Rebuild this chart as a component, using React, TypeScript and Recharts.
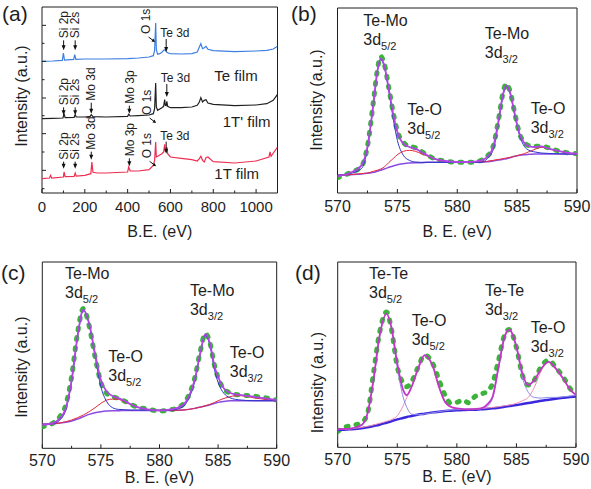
import React from 'react';
import { LineChart, Line, XAxis, YAxis, ReferenceArea, ReferenceDot } from 'recharts';

const FONT = '"Liberation Sans", Arial, Helvetica, sans-serif';
const INK = '#1e1e1e';

// ---------------- Panel (a): survey spectra ----------------
const surveyXTicks = [0, 100, 200, 300, 400, 500, 600, 700, 800, 900, 1000, 1100];
const surveyXMajor = [0, 200, 400, 600, 800, 1000];
const surveyYTicks = [13, 68, 123, 178, 232, 285, 340, 395, 449, 503];
const surveyYMajor = [68, 178, 285, 395, 503];

const teFilmBE = [0, 50, 95, 100, 105, 148, 153, 158, 200, 300, 400, 450, 500, 520, 526, 531, 534, 540, 550, 560, 568, 575, 582, 590, 600, 650, 700, 725, 735, 742, 750, 758, 766, 775, 800, 900, 1000, 1050, 1080, 1100];
const teFilmI = [395, 396, 398, 420, 399, 401, 415, 401, 402, 402, 403, 405, 408, 412, 428, 510, 430, 416, 418, 422, 428, 430, 423, 420, 418, 417, 418, 423, 438, 448, 433, 436, 440, 431, 427, 424, 426, 428, 432, 440];

const t1pFilmBE = [0, 50, 98, 103, 108, 150, 155, 160, 200, 225, 230, 238, 300, 400, 405, 412, 450, 500, 520, 526, 531, 534, 540, 560, 568, 573, 576, 580, 583, 587, 600, 650, 700, 725, 735, 742, 750, 758, 766, 775, 800, 900, 1000, 1050, 1080, 1100];
const t1pFilmI = [223, 224, 225, 238, 226, 227, 235, 228, 228, 230, 235, 229, 228, 230, 236, 231, 232, 234, 238, 253, 330, 258, 248, 256, 260, 280, 263, 262, 275, 260, 256, 256, 258, 263, 273, 286, 273, 278, 280, 270, 266, 262, 264, 268, 278, 296];

const t1FilmBE = [0, 35, 40, 45, 100, 103, 108, 150, 155, 160, 200, 228, 233, 238, 260, 300, 400, 405, 412, 450, 500, 520, 526, 531, 534, 540, 560, 568, 573, 576, 580, 583, 587, 600, 650, 700, 725, 735, 742, 750, 758, 766, 775, 800, 900, 1000, 1060, 1065, 1070, 1100];
const t1FilmI = [43, 45, 53, 45, 48, 63, 49, 50, 60, 51, 53, 58, 93, 62, 60, 60, 63, 78, 66, 66, 70, 83, 98, 153, 108, 110, 118, 123, 146, 126, 128, 138, 118, 108, 104, 100, 96, 103, 110, 98, 93, 106, 108, 94, 90, 96, 108, 123, 110, 138];

// vertical tags (rotated text + down arrow)
const surveyVTags = [
  { text: 'Si 2p', be: 101, val: 428, len: 10 },
  { text: 'Si 2s', be: 155, val: 428, len: 10 },
  { text: 'Si 2p', be: 101, val: 233, len: 8 },
  { text: 'Si 2s', be: 155, val: 233, len: 8 },
  { text: 'Mo 3d', be: 230, val: 238, len: 11 },
  { text: 'Mo 3p', be: 408, val: 238, len: 8 },
  { text: 'Si 2p', be: 101, val: 73, len: 7 },
  { text: 'Si 2s', be: 155, val: 73, len: 7 },
  { text: 'Mo 3d', be: 230, val: 100, len: 8 },
  { text: 'Mo 3p', be: 408, val: 80, len: 8 },
];
const surveyO1sTags = [
  { be: 528, val: 453 },
  { be: 533, val: 210 },
  { be: 533, val: 80 },
];
const surveyTe3dTags = [
  { be: 580, val: 423, len: 13 },
  { be: 583, val: 288, len: 13 },
  { be: 580, val: 118, len: 12 },
];
const surveySampleNames = [
  { text: 'Te film', be: 805, val: 353 },
  { text: "1T' film", be: 844, val: 213 },
  { text: '1T film', be: 805, val: 58 },
];

// ---------------- Panels (b)-(d): Te 3d high-resolution ----------------
const hrXTicks = [570, 572.5, 575, 577.5, 580, 582.5, 585, 587.5, 590];
const hrXMajor = [570, 575, 580, 585, 590];

// (b) 1T' film
const bBE = [570, 571, 572, 572.5, 573, 573.3, 573.6, 573.9, 574.3, 574.7, 575, 575.5, 576, 576.5, 577, 577.5, 578, 579, 580, 581, 582, 582.5, 583, 583.5, 583.8, 584.1, 584.4, 584.8, 585.2, 585.6, 586, 586.5, 587, 587.5, 588, 589, 590];
const bData = [46, 60, 80, 140, 275, 362, 410, 388, 312, 232, 186, 152, 140, 136, 125, 114, 104, 96, 92, 92, 98, 110, 140, 232, 298, 328, 306, 240, 178, 152, 142, 140, 141, 137, 131, 122, 118];
const bEnvelope = [50, 60, 83, 138, 268, 358, 403, 383, 308, 228, 183, 148, 138, 133, 123, 113, 104, 96, 93, 93, 98, 108, 138, 228, 293, 323, 303, 238, 178, 150, 140, 138, 140, 135, 130, 122, 118];
const bTeMo = [53, 58, 73, 133, 268, 358, 400, 380, 303, 213, 158, 113, 98, 93, 92, 92, 92, 92, 92, 92, 92, 103, 130, 223, 288, 320, 300, 233, 173, 140, 128, 123, 120, 119, 118, 117, 117];
const bTeO = [53, 55, 58, 60, 65, 68, 72, 78, 92, 105, 115, 125, 128, 125, 118, 111, 103, 95, 92, 92, 93, 95, 98, 101, 103, 105, 107, 110, 114, 118, 124, 131, 137, 135, 129, 122, 116];
const bBackground = [53, 55, 57, 59, 62, 65, 68, 72, 77, 82, 85, 88, 90, 91, 91, 92, 92, 92, 92, 92, 93, 94, 96, 99, 101, 103, 106, 110, 113, 115, 116, 117, 117, 117, 117, 117, 117];

// (c) 1T film
const cBE = [570, 571, 571.5, 572, 572.5, 573, 573.5, 574, 574.5, 575, 575.5, 576, 576.5, 577, 577.5, 578, 579, 580, 581, 582, 582.5, 583, 583.5, 583.9, 584.3, 584.7, 585, 585.5, 586, 586.5, 587, 588, 589, 590];
const cData = [65, 78, 95, 130, 215, 345, 420, 368, 275, 198, 165, 155, 150, 142, 133, 125, 118, 112, 116, 132, 160, 210, 295, 345, 318, 248, 212, 178, 167, 162, 160, 157, 152, 145];
const cEnvelope = [70, 77, 90, 120, 205, 335, 417, 375, 285, 205, 170, 157, 151, 143, 133, 125, 117, 114, 117, 130, 155, 205, 290, 343, 315, 245, 215, 180, 167, 162, 160, 155, 150, 145];
const cTeMo = [72, 75, 85, 115, 200, 332, 415, 372, 278, 185, 140, 122, 117, 116, 115, 115, 115, 114, 115, 125, 150, 200, 287, 340, 310, 235, 198, 165, 152, 147, 145, 143, 143, 143];
const cTeO = [72, 74, 76, 80, 85, 92, 100, 110, 122, 135, 145, 148, 147, 140, 132, 125, 117, 114, 114, 115, 117, 120, 124, 128, 132, 138, 143, 150, 155, 158, 158, 152, 147, 143];
const cBackground = [72, 74, 76, 78, 82, 88, 95, 102, 107, 110, 112, 113, 113, 114, 114, 114, 114, 114, 114, 115, 117, 120, 124, 127, 131, 135, 138, 141, 143, 143, 143, 143, 143, 143];

// (d) Te film
const dBE = [570, 570.5, 571, 572, 572.5, 573, 573.5, 574.1, 574.5, 575, 575.5, 575.8, 576.2, 576.7, 577.3, 578, 578.5, 579, 579.5, 580, 580.5, 581, 581.5, 582, 582.5, 583, 583.5, 584, 584.4, 585, 585.5, 586, 586.5, 587.1, 587.7, 588.3, 589, 589.5, 590];
const dData = [47, 60, 64, 74, 102, 222, 342, 407, 357, 242, 192, 182, 197, 237, 277, 250, 202, 157, 132, 135, 142, 134, 152, 160, 167, 192, 262, 337, 354, 300, 217, 187, 202, 244, 262, 240, 207, 177, 160];
const dEnvelope = [54, 55, 56, 67, 102, 202, 332, 402, 362, 252, 172, 157, 182, 232, 277, 242, 182, 137, 122, 117, 115, 114, 115, 117, 127, 152, 242, 332, 354, 302, 222, 187, 202, 237, 257, 237, 202, 174, 157];
const dTeTe = [54, 55, 56, 65, 98, 198, 328, 400, 358, 240, 150, 120, 100, 98, 100, 104, 107, 110, 112, 113, 114, 114, 114, 116, 122, 148, 238, 328, 352, 298, 210, 165, 150, 148, 150, 150, 152, 154, 156];
const dTeO = [53, 54, 55, 60, 63, 67, 72, 78, 83, 95, 125, 150, 180, 230, 275, 240, 180, 135, 120, 116, 114, 114, 115, 116, 118, 120, 122, 125, 127, 132, 140, 150, 180, 232, 255, 235, 200, 172, 157];
const dBackground = [52, 53, 54, 57, 60, 64, 68, 74, 78, 84, 88, 91, 94, 98, 101, 105, 107, 109, 110, 111, 112, 113, 113, 114, 115, 117, 119, 122, 124, 127, 130, 133, 136, 140, 143, 146, 149, 151, 153];

const bTags = [
  { name: 'Te-Mo', sub: '5/2', be: 572.15, val: 518 },
  { name: 'Te-O', sub: '5/2', be: 575.83, val: 250 },
  { name: 'Te-Mo', sub: '3/2', be: 582.3, val: 478 },
  { name: 'Te-O', sub: '3/2', be: 586.13, val: 255 },
];
const cTags = [
  { name: 'Te-Mo', sub: '5/2', be: 571.94, val: 525 },
  { name: 'Te-O', sub: '5/2', be: 575.63, val: 275 },
  { name: 'Te-Mo', sub: '3/2', be: 582.6, val: 475 },
  { name: 'Te-O', sub: '3/2', be: 586.0, val: 288 },
];
const dTags = [
  { name: 'Te-Te', sub: '5/2', be: 572.63, val: 522 },
  { name: 'Te-O', sub: '5/2', be: 576.21, val: 382 },
  { name: 'Te-Te', sub: '3/2', be: 582.36, val: 472 },
  { name: 'Te-O', sub: '3/2', be: 586.2, val: 360 },
];

// ---------------- helpers ----------------
const pairs = (xs: number[], ys: number[]) => xs.map((x, i) => ({ x, y: ys[i] }));
const table = (xs: number[], cols: Record<string, number[]>) =>
  xs.map((x, i) => {
    const row: Record<string, number> = { x };
    Object.keys(cols).forEach((k) => (row[k] = cols[k][i]));
    return row;
  });

const makeXTick = (majors: number[], labelDy: number, fontSize: number) => (props: any) => {
  const { x, y, payload } = props;
  const v = payload.value;
  const major = majors.includes(v);
  return (
    <g>
      <line x1={x} y1={y} x2={x} y2={y - (major ? 4 : 2.5)} stroke={INK} strokeWidth={1} />
      {major && (
        <text x={x} y={y + labelDy} dy="0.35em" textAnchor="middle" fontSize={fontSize} fontFamily={FONT} fill={INK}>
          {v}
        </text>
      )}
    </g>
  );
};

const makeYTick = (majors: number[]) => (props: any) => {
  const { x, y, payload } = props;
  const major = majors.includes(payload.value);
  return <line x1={x} y1={y} x2={x + (major ? 4 : 2.5)} y2={y} stroke={INK} strokeWidth={1} />;
};

const xTitle = (text: string, dy: number) => (props: any) => {
  const vb = props.viewBox || {};
  return (
    <text x={vb.x + vb.width / 2} y={vb.y + dy} dy="0.35em" textAnchor="middle" fontSize={16} fontFamily={FONT} fill={INK}>
      {text}
    </text>
  );
};

const yTitle = (dx: number, dy: number) => (props: any) => {
  const vb = props.viewBox || {};
  const cx = vb.x + vb.width - dx;
  const cy = vb.y + vb.height / 2 + dy;
  return (
    <text x={cx} y={cy} dy="0.35em" textAnchor="middle" fontSize={16} fontFamily={FONT} fill={INK} transform={`rotate(-90 ${cx} ${cy})`}>
      Intensity (a.u.)
    </text>
  );
};

const VTag = ({ cx, cy, text, len }: any) => {
  const ty = cy - len - 2;
  return (
    <g>
      <line x1={cx} y1={cy - len} x2={cx} y2={cy - 4} stroke="#111" strokeWidth={1} />
      <polygon points={`${cx - 2},${cy - 5} ${cx + 2},${cy - 5} ${cx},${cy}`} fill="#111" />
      <text x={cx} y={ty} dy="0.35em" fontSize={12} fontFamily={FONT} fill={INK} transform={`rotate(-90 ${cx} ${ty})`}>
        {text}
      </text>
    </g>
  );
};

const O1sTag = ({ cx, cy }: any) => {
  const tx = cx - 9;
  const ty = cy - 8;
  return (
    <g>
      <line x1={cx - 6.5} y1={cy - 5} x2={cx - 1.5} y2={cy - 1.2} stroke="#111" strokeWidth={1} />
      <polygon points={`${cx},${cy} ${cx - 3.6},${cy - 0.6} ${cx - 1.6},${cy - 3.4}`} fill="#111" />
      <text x={tx} y={ty} dy="0.35em" fontSize={12} fontFamily={FONT} fill={INK} transform={`rotate(-90 ${tx} ${ty})`}>
        O 1s
      </text>
    </g>
  );
};

const Te3dTag = ({ cx, cy, len }: any) => (
  <g>
    <line x1={cx} y1={cy - len} x2={cx} y2={cy - 4} stroke="#111" strokeWidth={1} />
    <polygon points={`${cx - 2},${cy - 5} ${cx + 2},${cy - 5} ${cx},${cy}`} fill="#111" />
    <text x={cx - 6} y={cy - len - 6} dy="0.35em" fontSize={12} fontFamily={FONT} fill={INK}>
      Te 3d
    </text>
  </g>
);

const SampleName = ({ cx, cy, text }: any) => (
  <text x={cx} y={cy} dy="0.35em" fontSize={15} fontFamily={FONT} fill={INK}>
    {text}
  </text>
);

const PeakTag = ({ cx, cy, name, sub }: any) => (
  <g fontFamily={FONT} fill={INK}>
    <text x={cx} y={cy} dy="0.35em" fontSize={16}>
      {name}
    </text>
    <text x={cx} y={cy + 19} dy="0.35em" fontSize={16}>
      3d
      <tspan fontSize={11} dy={5}>
        {sub}
      </tspan>
    </text>
  </g>
);

const PanelLetter = ({ left, top, text }: any) => (
  <div style={{ position: 'absolute', left, top, fontSize: 21, lineHeight: '21px', fontFamily: FONT, color: INK }}>{text}</div>
);

type Series = { key: string; color: string; width: number; dash?: string; round?: boolean };

const hrSeries = (env: string, teA: string, teB: string, bg: string, teW: number, bgW: number): Series[] => [
  { key: 'data', color: '#3cb43c', width: 5, dash: '2 8', round: true },
  { key: 'bg', color: bg, width: bgW },
  { key: 'teB', color: teB, width: teW },
  { key: 'teA', color: teA, width: teW },
  { key: 'env', color: env, width: 1.8 },
];

const HrPanel = ({ left, top, width, height, margin, xh, yMax, rows, series, tags, labelDy, titleDy, yDx, yDy }: any) => (
  <div style={{ position: 'absolute', left, top }}>
    <LineChart width={width} height={height} margin={margin} data={rows}>
      <XAxis
        type="number"
        dataKey="x"
        domain={[570, 590]}
        ticks={hrXTicks}
        interval={0}
        allowDataOverflow
        tick={makeXTick(hrXMajor, labelDy, 16)}
        tickLine={false}
        axisLine={false}
        tickSize={0}
        tickMargin={0}
        height={xh}
        label={xTitle('B. E. (eV)', titleDy)}
      />
      <YAxis
        type="number"
        domain={[0, yMax]}
        allowDataOverflow
        tick={false}
        tickLine={false}
        axisLine={false}
        width={30}
        label={yTitle(yDx, yDy)}
      />
      <ReferenceArea x1={570} x2={590} y1={0} y2={yMax} fill="none" stroke={INK} strokeWidth={1} ifOverflow="visible" />
      {series.map((s: Series) => (
        <Line
          key={s.key}
          type="monotone"
          dataKey={s.key}
          stroke={s.color}
          strokeWidth={s.width}
          strokeDasharray={s.dash}
          strokeLinecap={s.round ? 'round' : 'butt'}
          dot={false}
          activeDot={false}
          isAnimationActive={false}
        />
      ))}
      {tags.map((t: any, i: number) => (
        <ReferenceDot
          key={i}
          x={t.be}
          y={t.val}
          r={1}
          ifOverflow="visible"
          shape={(p: any) => <PeakTag cx={p.cx} cy={p.cy} name={t.name} sub={t.sub} />}
        />
      ))}
    </LineChart>
  </div>
);

export default function App() {
  const bRows = table(bBE, { data: bData, env: bEnvelope, teA: bTeMo, teB: bTeO, bg: bBackground });
  const cRows = table(cBE, { data: cData, env: cEnvelope, teA: cTeMo, teB: cTeO, bg: cBackground });
  const dRows = table(dBE, { data: dData, env: dEnvelope, teA: dTeTe, teB: dTeO, bg: dBackground });

  return (
    <div style={{ position: 'absolute', left: 0, top: 0, width: 591, height: 489, background: '#fff', overflow: 'hidden' }}>
      {/* (a) survey */}
      <div style={{ position: 'absolute', left: 0, top: 0 }}>
        <LineChart width={295} height={245} margin={{ top: 7, right: 17.5, bottom: 7, left: 12 }}>
          <XAxis
            type="number"
            dataKey="x"
            domain={[0, 1100]}
            ticks={surveyXTicks}
            interval={0}
            allowDataOverflow
            tick={makeXTick(surveyXMajor, 13.5, 15)}
            tickLine={false}
            axisLine={false}
            tickSize={0}
            tickMargin={0}
            height={45}
            label={xTitle('B.E. (eV)', 38.5)}
          />
          <YAxis
            type="number"
            dataKey="y"
            domain={[0, 558]}
            ticks={surveyYTicks}
            interval={0}
            allowDataOverflow
            tick={makeYTick(surveyYMajor)}
            tickLine={false}
            axisLine={false}
            tickSize={0}
            tickMargin={0}
            width={30}
            label={yTitle(20.3, -4)}
          />
          <ReferenceArea x1={0} x2={1100} y1={0} y2={558} fill="none" stroke={INK} strokeWidth={1} ifOverflow="visible" />
          <Line data={pairs(t1FilmBE, t1FilmI)} dataKey="y" type="linear" stroke="#ee2f52" strokeWidth={1.2} dot={false} activeDot={false} isAnimationActive={false} />
          <Line data={pairs(t1pFilmBE, t1pFilmI)} dataKey="y" type="linear" stroke="#202020" strokeWidth={1.2} dot={false} activeDot={false} isAnimationActive={false} />
          <Line data={pairs(teFilmBE, teFilmI)} dataKey="y" type="linear" stroke="#3d7fe0" strokeWidth={1.2} dot={false} activeDot={false} isAnimationActive={false} />
          {surveyVTags.map((t, i) => (
            <ReferenceDot key={'v' + i} x={t.be} y={t.val} r={1} ifOverflow="visible" shape={(p: any) => <VTag cx={p.cx} cy={p.cy} text={t.text} len={t.len} />} />
          ))}
          {surveyO1sTags.map((t, i) => (
            <ReferenceDot key={'o' + i} x={t.be} y={t.val} r={1} ifOverflow="visible" shape={(p: any) => <O1sTag cx={p.cx} cy={p.cy} />} />
          ))}
          {surveyTe3dTags.map((t, i) => (
            <ReferenceDot key={'t' + i} x={t.be} y={t.val} r={1} ifOverflow="visible" shape={(p: any) => <Te3dTag cx={p.cx} cy={p.cy} len={t.len} />} />
          ))}
          {surveySampleNames.map((t, i) => (
            <ReferenceDot key={'s' + i} x={t.be} y={t.val} r={1} ifOverflow="visible" shape={(p: any) => <SampleName cx={p.cx} cy={p.cy} text={t.text} />} />
          ))}
        </LineChart>
      </div>

      <HrPanel
        left={295}
        top={0}
        width={296}
        height={245}
        margin={{ top: 8, right: 14, bottom: 7, left: 12.5 }}
        xh={45}
        yMax={555}
        rows={bRows}
        series={hrSeries('#b044e4', '#2a35c8', '#e8283c', '#8a4ce2', 1, 1.5)}
        tags={bTags}
        labelDy={13.5}
        titleDy={38.5}
        yDx={20.8}
        yDy={-0.5}
      />
      <HrPanel
        left={0}
        top={245}
        width={295}
        height={244}
        margin={{ top: 17, right: 18.3, bottom: 5.7, left: 12.3 }}
        xh={35}
        yMax={560}
        rows={cRows}
        series={hrSeries('#b044e4', '#2a35c8', '#e8283c', '#8a4ce2', 1, 1.5)}
        tags={cTags}
        labelDy={12}
        titleDy={29}
        yDx={20.6}
        yDy={12}
      />
      <HrPanel
        left={295}
        top={245}
        width={296}
        height={244}
        margin={{ top: 17, right: 15, bottom: 6.7, left: 12.7 }}
        xh={35}
        yMax={557}
        rows={dRows}
        series={hrSeries('#c436c8', '#8c8ce8', '#f08cb4', '#3c28dc', 1, 2.5)}
        tags={dTags}
        labelDy={12}
        titleDy={29}
        yDx={20.7}
        yDy={28}
      />

      <PanelLetter left={2} top={3} text="(a)" />
      <PanelLetter left={291} top={3} text="(b)" />
      <PanelLetter left={1} top={262} text="(c)" />
      <PanelLetter left={295} top={262} text="(d)" />
    </div>
  );
}
